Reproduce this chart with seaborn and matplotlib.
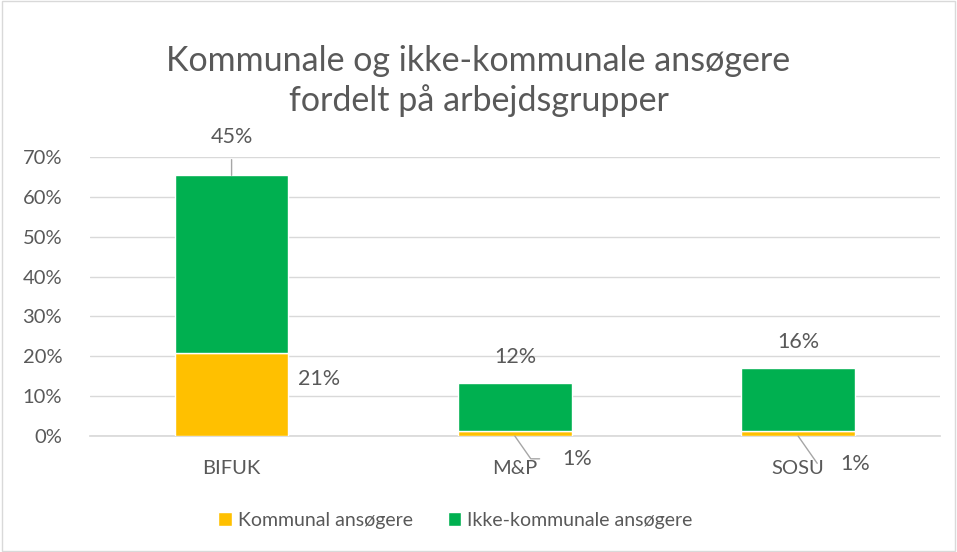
import matplotlib
matplotlib.use("Agg")
import matplotlib.pyplot as plt
import seaborn as sns
import pandas as pd
from matplotlib.patches import Rectangle

groups = ["BIFUK", "M&P", "SOSU"]
kommunal = [0.208, 0.013, 0.013]
ikke_kommunal = [0.446, 0.12, 0.158]
series_names = ["Kommunal ansøgere", "Ikke-kommunale ansøgere"]
title = "Kommunale og ikke-kommunale ansøgere\nfordelt på arbejdsgrupper"

yellow = "#FFC000"
green = "#00B050"
txt = "#595959"
grid = "#D9D9D9"

sns.set_theme(style="white")
plt.rcParams["font.family"] = ["Lato", "DejaVu Sans"]

df = pd.DataFrame({"gruppe": groups, "kommunal": kommunal, "ikke": ikke_kommunal})

fig = plt.figure(figsize=(9.57, 5.52), dpi=100)
ax = fig.add_axes([0.094, 0.210, 0.888, 0.5056])

sns.barplot(data=df, x="gruppe", y="kommunal", color=yellow, width=0.4,
            saturation=1, label=series_names[0], ax=ax, zorder=3)
sns.barplot(data=df, x="gruppe", y="ikke", color=green, width=0.4,
            saturation=1, bottom=df["kommunal"], label=series_names[1], ax=ax, zorder=3)

ax.set_ylim(0, 0.7)
ax.set_xlim(-0.5, 2.5)
ax.set_yticks([i / 10 for i in range(8)])
ax.set_yticklabels([f"{i * 10}%" for i in range(8)])
ax.yaxis.grid(True, color=grid, linewidth=1, zorder=0)
ax.set_axisbelow(True)
ax.set_xlabel("")
ax.set_ylabel("")
for s in ["top", "right", "left"]:
    ax.spines[s].set_visible(False)
ax.spines["bottom"].set_color(grid)
ax.tick_params(axis="both", length=0, labelsize=14.5, colors=txt)
ax.tick_params(axis="x", pad=17)
ax.tick_params(axis="y", pad=20)

# labels
lbl = dict(fontsize=15.5, color=txt, ha="center", va="center")
line = dict(arrowstyle="-", color="#A6A6A6", lw=1)
k0, i0 = kommunal[0], ikke_kommunal[0]
ax.annotate(f"{i0:.0%}", xy=(0, k0 + i0), xytext=(0, k0 + i0 + 0.097),
            arrowprops=dict(line, shrinkA=7, shrinkB=0), **lbl)
ax.annotate(f"{k0:.0%}", xy=(0.31, k0 / 2 + 0.04), **lbl)
for i in (1, 2):
    top = kommunal[i] + ikke_kommunal[i]
    ax.annotate(f"{ikke_kommunal[i]:.0%}", xy=(i, top + 0.065), **lbl)
ax.annotate(f"{kommunal[1]:.0%}", xy=(1, 0), xytext=(1.22, -0.057),
            arrowprops=dict(line, connectionstyle="angle,angleA=0,angleB=-55,rad=0",
                            shrinkA=14, shrinkB=0), **lbl)
ax.annotate(f"{kommunal[2]:.0%}", xy=(2, 0), xytext=(2.2, -0.07),
            arrowprops=dict(line, connectionstyle="angle,angleA=0,angleB=-55,rad=0",
                            shrinkA=14, shrinkB=0), **lbl)

fig.suptitle(title, y=0.853, va="center", fontsize=24.5, color=txt, linespacing=1.27)

handles, labels = ax.get_legend_handles_labels()
fig.legend(handles, labels, loc="center", bbox_to_anchor=(0.476, 0.057), ncol=2,
           frameon=False, fontsize=14, labelcolor=txt, handlelength=0.7,
           handleheight=0.7, handletextpad=0.3, columnspacing=1.8)
if ax.get_legend():
    ax.get_legend().remove()

fig.patches.append(Rectangle((0.002, 0.002), 0.996, 0.996, transform=fig.transFigure,
                             fill=False, edgecolor=grid, linewidth=1))

fig.savefig("out.png", dpi=100)
